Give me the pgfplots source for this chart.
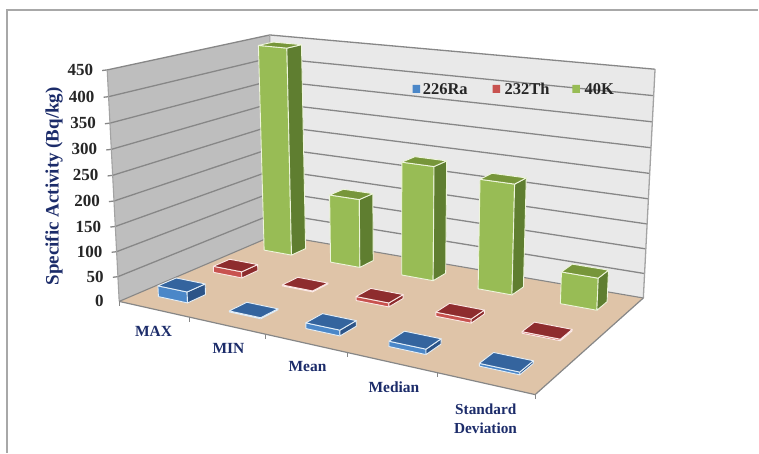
\documentclass[border=0pt]{standalone}
\usepackage{fontspec}
\setmainfont{Liberation Serif}
\usepackage{pgfplots}
\pgfplotsset{compat=1.18}

\definecolor{wallleft}{HTML}{BEBEBE}
\definecolor{wallback}{HTML}{E9E9E9}
\definecolor{floorc}{HTML}{DFC4A8}
\definecolor{gridc}{HTML}{878787}
\definecolor{edgec}{HTML}{A3A3A3}
\definecolor{frameC}{HTML}{A8A8A8}
\definecolor{navy}{HTML}{1C2C6A}
\definecolor{kfront}{HTML}{98BC55}
\definecolor{kside}{HTML}{5F7E30}
\definecolor{ktop}{HTML}{77963A}
\definecolor{klink}{HTML}{EEF5DC}
\definecolor{thfront}{HTML}{C8524F}
\definecolor{thside}{HTML}{8C2B2C}
\definecolor{thtop}{HTML}{8E2C2E}
\definecolor{thlink}{HTML}{FBE9E6}
\definecolor{rafront}{HTML}{4B87C8}
\definecolor{raside}{HTML}{2C5488}
\definecolor{ratop}{HTML}{34649E}
\definecolor{ralink}{HTML}{E2EEF8}

% Perspective of the 3-D box: X along the categories (0..1), Y into the depth (0..1),
% and V the activity in Bq/kg (0..450); results are in drawing units.
\pgfmathdeclarefunction{wd}{3}{\pgfmathparse{1-0.18882*#1+0.18549*#2-0.0431*(#3/450)}}
\pgfmathdeclarefunction{pu}{3}{\pgfmathparse{(315.25*#1+207.3*#2+119.3+(-16.63+1.52*#1-1.52*#2)*(#3/450))/wd(#1,#2,#3)}}
\pgfmathdeclarefunction{pv}{3}{\pgfmathparse{(18.72*#1-23.11*#2+301.7+(-234.72+7.38*#1-3.89*#2)*(#3/450))/wd(#1,#2,#3)}}

% \ppt{name}{X}{Y}{V} stores a projected point as "(u,v)"
\newcommand{\ppt}[4]{%
  \pgfmathsetmacro\tu{pu(#2,#3,#4)}%
  \pgfmathsetmacro\tv{pv(#2,#3,#4)}%
  \expandafter\edef\csname #1\endcsname{(\tu,\tv)}}

% \face{options}{p1}{p2}{p3}{p4} fills one quadrilateral
\newcommand{\face}[5]{%
  \edef\tmp{\noexpand\addplot[#1] coordinates {#2 #3 #4 #5 #2};}\tmp}

% \threedbar{category}{series}{value}{front}{side}{top}{outline}
\newcommand{\threedbar}[7]{%
  \pgfmathsetmacro\xa{0.2*#1+0.055}\pgfmathsetmacro\xb{0.2*#1+0.139}%
  \ifcase#2 \def\ya{0.114}\def\yb{0.220}\or \def\ya{0.447}\def\yb{0.553}\or \def\ya{0.790}\def\yb{0.895}\fi
  \ppt{pa}{\xa}{\ya}{0}\ppt{pb}{\xb}{\ya}{0}\ppt{pc}{\xb}{\yb}{0}%
  \ppt{qa}{\xa}{\ya}{#3}\ppt{qb}{\xb}{\ya}{#3}\ppt{qc}{\xb}{\yb}{#3}\ppt{qd}{\xa}{\yb}{#3}%
  \face{fill=#4,draw=#7,line width=0.9pt,line join=round}{\pa}{\pb}{\qb}{\qa}%
  \face{fill=#5,draw=#7,line width=0.9pt,line join=round}{\pb}{\pc}{\qc}{\qb}%
  \face{fill=#6,draw=#7,line width=0.9pt,line join=round}{\qa}{\qb}{\qc}{\qd}%
}

% \gridlevel{value} draws the grid line round both walls, its tick and its label
\newcommand{\gridlevel}[1]{%
  \ppt{ga}{0}{0}{#1}\ppt{gb}{0}{1}{#1}\ppt{gc}{1}{1}{#1}%
  \pgfmathsetmacro\tu{pu(0,0,#1)-5}\pgfmathsetmacro\tv{pv(0,0,#1)+0.6}%
  \edef\tmp{\noexpand\addplot[draw=gridc,line width=1.3pt] coordinates {(\tu,\tv) \ga \gb \gc};}\tmp
  \node[anchor=east,font=\fontsize{17}{17}\selectfont\bfseries,inner sep=0pt,text=black!85]
    at (axis cs:{pu(0,0,#1)-14},{pv(0,0,#1)}) {#1};%
}

% \floortick{X} marks a category boundary on the front edge of the floor
\newcommand{\floortick}[1]{%
  \pgfmathsetmacro\tu{pu(#1,0,0)}\pgfmathsetmacro\tv{pv(#1,0,0)}%
  \pgfmathsetmacro\tw{\tv+4.5}%
  \edef\tmp{\noexpand\addplot[draw=gridc,line width=1pt] coordinates {(\tu,\tv) (\tu,\tw)};}\tmp
}

\newcommand{\swatch}[3]{%
  \addplot[fill=#1,draw=none] coordinates {(#2,85) (#3,85) (#3,93) (#2,93) (#2,85)};}

\begin{document}
\begin{tikzpicture}
\begin{axis}[
  scale only axis,
  width=759pt, height=453pt,
  xmin=0, xmax=759, ymin=0, ymax=453,
  y dir=reverse,
  axis lines=none,
  clip=false,
]
% page background and chart frame
\addplot[fill=white,draw=none] coordinates {(0,0) (759,0) (759,453) (0,453) (0,0)};
\addplot[draw=frameC,line width=1.5pt] coordinates {(7,453) (7,10) (759,10)};

% walls and floor
\ppt{A}{0}{0}{0}\ppt{B}{1}{0}{0}\ppt{C}{1}{1}{0}\ppt{D}{0}{1}{0}
\ppt{At}{0}{0}{450}\ppt{Ct}{1}{1}{450}\ppt{Dt}{0}{1}{450}
\face{fill=wallleft,draw=none}{\A}{\D}{\Dt}{\At}
\face{fill=wallback,draw=none}{\D}{\C}{\Ct}{\Dt}
\face{fill=floorc,draw=none}{\A}{\B}{\C}{\D}

\gridlevel{50}\gridlevel{100}\gridlevel{150}\gridlevel{200}
\gridlevel{250}\gridlevel{300}\gridlevel{350}\gridlevel{400}\gridlevel{450}
\node[anchor=east,font=\fontsize{17}{17}\selectfont\bfseries,inner sep=0pt,text=black!85]
  at (axis cs:104,{pv(0,0,0)}) {0};

% outline of the box
\edef\tmp{\noexpand\addplot[draw=edgec,line width=1.1pt] coordinates {\A \At};}\tmp
\edef\tmp{\noexpand\addplot[draw=edgec,line width=1.1pt] coordinates {\D \Dt};}\tmp
\edef\tmp{\noexpand\addplot[draw=edgec,line width=1.3pt] coordinates {\C \Ct};}\tmp
\edef\tmp{\noexpand\addplot[draw=gridc,line width=1.1pt] coordinates {\A \D \C};}\tmp
\edef\tmp{\noexpand\addplot[draw=gridc,line width=1.2pt] coordinates {\A \B \C};}\tmp
\floortick{0}\floortick{0.2}\floortick{0.4}\floortick{0.6}\floortick{0.8}\floortick{1}

% 40K
\threedbar{0}{2}{445}{kfront}{kside}{ktop}{klink}
\threedbar{1}{2}{146}{kfront}{kside}{ktop}{klink}
\threedbar{2}{2}{237}{kfront}{kside}{ktop}{klink}
\threedbar{3}{2}{224}{kfront}{kside}{ktop}{klink}
\threedbar{4}{2}{64}{kfront}{kside}{ktop}{klink}
% 232Th
\threedbar{0}{1}{13}{thfront}{thside}{thtop}{thlink}
\threedbar{1}{1}{2}{thfront}{thside}{thtop}{thlink}
\threedbar{2}{1}{8}{thfront}{thside}{thtop}{thlink}
\threedbar{3}{1}{8}{thfront}{thside}{thtop}{thlink}
\threedbar{4}{1}{3}{thfront}{thside}{thtop}{thlink}
% 226Ra
\threedbar{0}{0}{22}{rafront}{raside}{ratop}{ralink}
\threedbar{1}{0}{2}{rafront}{raside}{ratop}{ralink}
\threedbar{2}{0}{11}{rafront}{raside}{ratop}{ralink}
\threedbar{3}{0}{10}{rafront}{raside}{ratop}{ralink}
\threedbar{4}{0}{5}{rafront}{raside}{ratop}{ralink}

% legend
\swatch{rafront}{413}{420.5}
\swatch{thfront}{493}{500.5}
\swatch{kfront}{573}{580.5}
\node[anchor=west,inner sep=0pt,font=\fontsize{16.5}{16.5}\selectfont\bfseries,text=black!85] at (axis cs:423,89) {226Ra};
\node[anchor=west,inner sep=0pt,font=\fontsize{16.5}{16.5}\selectfont\bfseries,text=black!85] at (axis cs:505,89) {232Th};
\node[anchor=west,inner sep=0pt,font=\fontsize{16.5}{16.5}\selectfont\bfseries,text=black!85] at (axis cs:585,89) {40K};

% axis title and category names
\node[rotate=90,inner sep=0pt,font=\fontsize{19}{19}\selectfont\bfseries,text=navy] at (axis cs:54,186.5) {Specific Activity (Bq/kg)};
\node[inner sep=0pt,font=\fontsize{15.5}{15.5}\selectfont\bfseries,text=navy] at (axis cs:153.7,332) {MAX};
\node[inner sep=0pt,font=\fontsize{15.5}{15.5}\selectfont\bfseries,text=navy] at (axis cs:228.7,349) {MIN};
\node[inner sep=0pt,font=\fontsize{15.5}{15.5}\selectfont\bfseries,text=navy] at (axis cs:307.8,367.3) {Mean};
\node[inner sep=0pt,font=\fontsize{15.5}{15.5}\selectfont\bfseries,text=navy] at (axis cs:394.3,387.7) {Median};
\node[inner sep=0pt,font=\fontsize{15.3}{15.3}\selectfont\bfseries,text=navy] at (axis cs:486.3,409.3) {Standard};
\node[inner sep=0pt,font=\fontsize{15.3}{15.3}\selectfont\bfseries,text=navy] at (axis cs:486,429) {Deviation};
\end{axis}
\end{tikzpicture}
\end{document}
